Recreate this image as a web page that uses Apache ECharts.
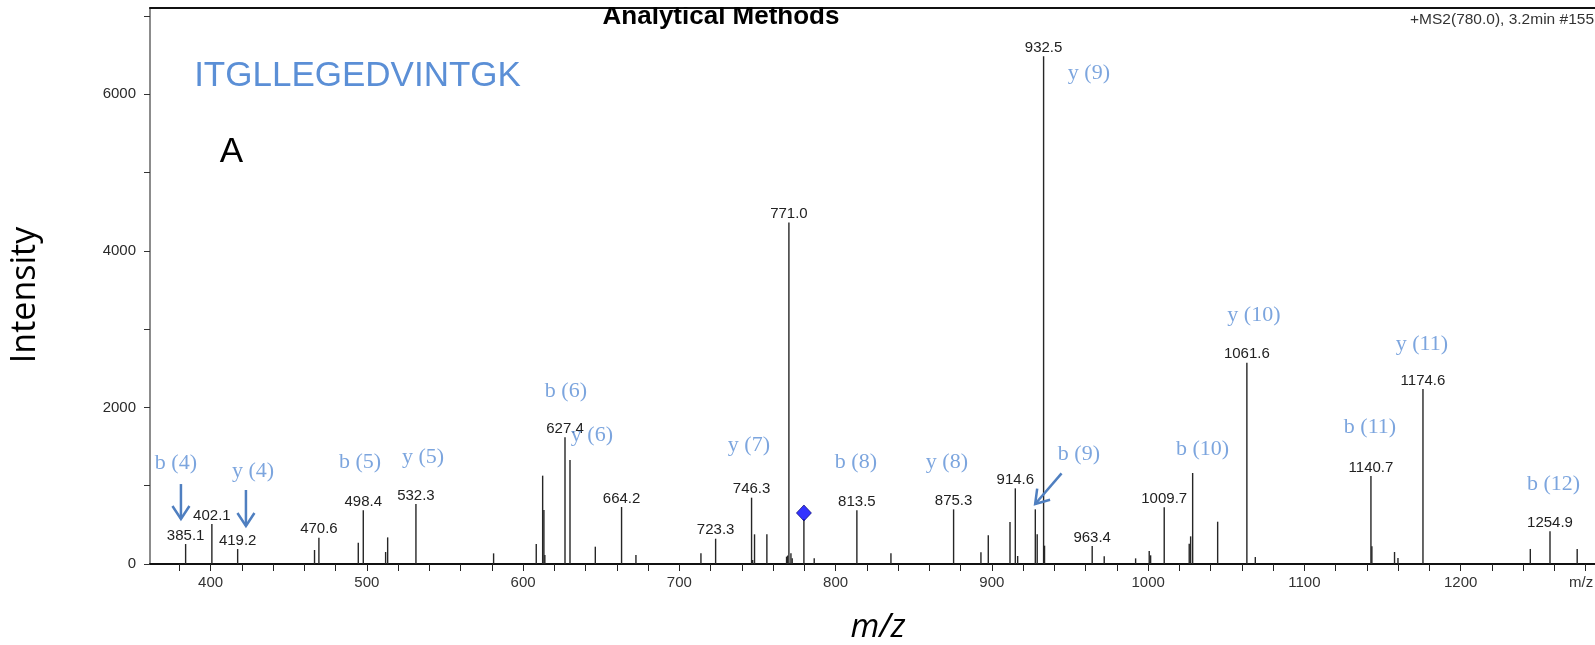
<!DOCTYPE html>
<html>
<head>
<meta charset="utf-8">
<title>MS2 spectrum ITGLLEGEDVINTGK</title>
<script src="https://cdn.jsdelivr.net/npm/echarts@6/dist/echarts.min.js"></script>
<style>
  html, body { margin: 0; padding: 0; background: #fff; }
  #chart { width: 1595px; height: 645px; }
</style>
</head>
<body>
<div id="chart"></div>
<script>
// peaks (m/z, intensity)
const peakMz = [
  384.0, 400.8, 417.3, 466.5, 469.3, 494.5, 497.7, 512.0, 513.3, 531.4,
  581.1, 608.4, 612.5, 613.3, 613.9, 626.8, 630.0, 646.2, 663.0, 672.2,
  713.8, 723.2, 746.2, 746.9, 748.1, 756.0, 768.6, 769.3, 770.1, 771.4,
  772.2, 779.7, 786.3, 813.6, 835.4, 875.5, 893.0, 897.7, 911.6, 915.0,
  916.5, 927.8, 929.0, 933.1, 933.7, 964.2, 971.9, 992.0, 1000.7, 1001.6,
  1010.3, 1026.3, 1027.2, 1028.5, 1044.5, 1063.2, 1068.6, 1142.6, 1143.2, 1157.7,
  1159.9, 1175.9, 1244.6, 1257.2, 1274.6
];
const peakIntensity = [
  255, 511, 191, 179, 336, 272, 685, 153, 340, 766,
  136, 255, 1128, 689, 115, 1617, 1328, 221, 728, 115,
  136, 323, 847, 51, 379, 379, 94, 108, 4362, 136,
  72, 575, 72, 685, 136, 698, 149, 366, 536, 966,
  102, 698, 379, 6485, 234, 230, 98, 72, 166, 111,
  724, 260, 353, 1162, 540, 2570, 89, 1124, 226, 153,
  77, 2234, 192, 417, 192
];
const peakLabels = [
  '385.1', '402.1', '419.2', '', '470.6', '', '498.4', '', '', '532.3',
  '', '', '', '', '', '627.4', '', '', '664.2', '',
  '', '723.3', '746.3', '', '', '', '', '', '771.0', '',
  '', '', '', '813.5', '', '875.3', '', '', '', '914.6',
  '', '', '', '932.5', '', '963.4', '', '', '', '',
  '1009.7', '', '', '', '', '1061.6', '', '1140.7', '', '',
  '', '1174.6', '', '1254.9', ''
];
const precursorIndex = 31; // 780.0, marked with a diamond

// fragment ion annotations
const ionNames = ['b (4)', 'y (4)', 'b (5)', 'y (5)', 'b (6)', 'y (6)', 'y (7)', 'b (8)',
  'y (8)', 'b (9)', 'y (9)', 'b (10)', 'y (10)', 'b (11)', 'y (11)', 'b (12)'];
const ionMz = [377.8, 427.1, 495.6, 535.9, 627.4, 644.0, 744.5, 813.0,
  871.2, 955.7, 962.1, 1034.8, 1067.7, 1142.0, 1175.2, 1259.5];
const ionIntensity = [1289, 1187, 1302, 1366, 2209, 1647, 1519, 1302,
  1302, 1404, 6268, 1468, 3172, 1749, 2809, 1021];

// arrows: [mz from, intensity from, mz to, intensity to]
const arrowB4 = [381.0, 1021, 381.0, 574];
const arrowY4 = [422.6, 945, 422.6, 485];
const arrowB9 = [944.6, 1158, 927.7, 766];

const xTicks = [380, 400, 420, 440, 460, 480, 500, 520, 540, 560, 580, 600, 620, 640, 660,
  680, 700, 720, 740, 760, 780, 800, 820, 840, 860, 880, 900, 920, 940, 960, 980, 1000,
  1020, 1040, 1060, 1080, 1100, 1120, 1140, 1160, 1180, 1200, 1220, 1240, 1260, 1280];
const xLabels = [400, 500, 600, 700, 800, 900, 1000, 1100, 1200];
const yTicks = [0, 1000, 2000, 3000, 4000, 5000, 6000, 7000];
const yLabels = [0, 2000, 4000, 6000];

const chart = echarts.init(document.getElementById('chart'));

const blue = '#5b8fd6';
const arrowBlue = '#4f7fc0';
const sans = '"Liberation Sans", Arial, sans-serif';

const peakData = peakMz.map((m, i) => ({
  value: [m, peakIntensity[i]],
  label: peakLabels[i] ? { show: true, formatter: peakLabels[i] } : { show: false }
}));

function renderArrow(params, api) {
  const a = api.coord([api.value(0), api.value(1)]);
  const b = api.coord([api.value(2), api.value(3)]);
  const dx = b[0] - a[0], dy = b[1] - a[1];
  const len = Math.sqrt(dx * dx + dy * dy);
  const ux = dx / len, uy = dy / len;
  const back = 13, half = 8.5;
  const left = [b[0] - ux * back - uy * half, b[1] - uy * back + ux * half];
  const right = [b[0] - ux * back + uy * half, b[1] - uy * back - ux * half];
  return {
    type: 'group',
    children: [
      { type: 'line', shape: { x1: a[0], y1: a[1], x2: b[0], y2: b[1] },
        style: { stroke: arrowBlue, lineWidth: 2.5 } },
      { type: 'polyline', shape: { points: [left, b, right] },
        style: { stroke: arrowBlue, lineWidth: 2.5, fill: null } }
    ]
  };
}

const option = {
  animation: false,
  backgroundColor: '#fff',
  grid: { left: 150, right: 0, top: 8, bottom: 81 },
  xAxis: [{
    type: 'value',
    min: 361.2,
    max: 1286,
    axisLine: { lineStyle: { color: '#111', width: 2 } },
    axisTick: { customValues: xTicks, length: 7, lineStyle: { color: '#222', width: 1 } },
    axisLabel: {
      customValues: xLabels, margin: 11, color: '#333', fontSize: 15, fontFamily: sans,
      formatter: v => String(v)
    },
    splitLine: { show: false }
  }, {
    type: 'value',
    position: 'top',
    min: 361.2,
    max: 1286,
    axisLine: { show: true, lineStyle: { color: '#111', width: 2 } },
    axisTick: { show: false },
    axisLabel: { show: false },
    splitLine: { show: false }
  }],
  yAxis: {
    type: 'value',
    min: 0,
    max: 7100,
    axisLine: { show: true, lineStyle: { color: '#666', width: 1.5 } },
    axisTick: { show: true, customValues: yTicks, length: 6, lineStyle: { color: '#333' } },
    axisLabel: {
      customValues: yLabels, margin: 14, color: '#2a2a2a', fontSize: 15, fontFamily: sans,
      formatter: v => String(v)
    },
    splitLine: { show: false }
  },
  series: [{
    type: 'bar',
    xAxisIndex: 0,
    barWidth: 1.4,
    itemStyle: { color: '#262626' },
    label: { position: 'top', distance: 1, color: '#222', fontSize: 15, fontFamily: sans },
    data: peakData,
    silent: true
  }, {
    type: 'scatter',
    xAxisIndex: 0,
    symbol: 'diamond',
    symbolSize: [15, 16],
    symbolOffset: [0, -6],
    itemStyle: { color: '#0000ff', borderColor: '#000060', borderWidth: 0.8 },
    data: [[peakMz[precursorIndex], peakIntensity[precursorIndex]]],
    z: 5,
    silent: true
  }, {
    type: 'scatter',
    xAxisIndex: 0,
    symbolSize: 1,
    itemStyle: { color: 'rgba(0,0,0,0)' },
    label: {
      show: true, position: 'inside', formatter: '{b}', color: blue,
      fontSize: 22, fontFamily: '"Liberation Serif", "Times New Roman", serif'
    },
    data: ionNames.map((n, i) => ({ name: n, value: [ionMz[i], ionIntensity[i]] })),
    silent: true
  }, {
    type: 'custom',
    xAxisIndex: 0,
    renderItem: renderArrow,
    data: [arrowB4, arrowY4, arrowB9],
    silent: true,
    z: 4
  }],
  graphic: [
    { type: 'text', x: 721, y: 17, z: 1,
      style: { text: 'Analytical Methods', fontSize: 26, fontWeight: 'bold', fontFamily: sans,
        fill: '#000', align: 'center', verticalAlign: 'middle' } },
    { type: 'rect', shape: { x: 150, y: 0, width: 1445, height: 7 }, z: 2,
      style: { fill: '#fff' } },
    { type: 'text', x: 1594, y: 19.6,
      style: { text: '+MS2(780.0), 3.2min #155', fontSize: 15.5, fontFamily: sans,
        fill: '#333', align: 'right', verticalAlign: 'middle' } },
    { type: 'text', x: 357.5, y: 76,
      style: { text: 'ITGLLEGEDVINTGK', fontSize: 35, fontFamily: sans,
        fill: blue, align: 'center', verticalAlign: 'middle' } },
    { type: 'text', x: 231.5, y: 152,
      style: { text: 'A', fontSize: 35, fontFamily: sans,
        fill: '#000', align: 'center', verticalAlign: 'middle' } },
    { type: 'text', x: 25, y: 295, rotation: Math.PI / 2,
      style: { text: 'Intensity', fontSize: 34, fontFamily: '"Open Sans", "Noto Sans", sans-serif',
        fill: '#000', align: 'center', verticalAlign: 'middle' } },
    { type: 'text', x: 878, y: 628,
      style: { text: 'm/z', fontSize: 33, fontStyle: 'italic',
        fontFamily: '"Open Sans", "Noto Sans", sans-serif',
        fill: '#000', align: 'center', verticalAlign: 'middle' } },
    { type: 'text', x: 1569, y: 583,
      style: { text: 'm/z', fontSize: 15, fontFamily: sans,
        fill: '#333', align: 'left', verticalAlign: 'middle' } }
  ]
};

chart.setOption(option);
</script>
</body>
</html>
